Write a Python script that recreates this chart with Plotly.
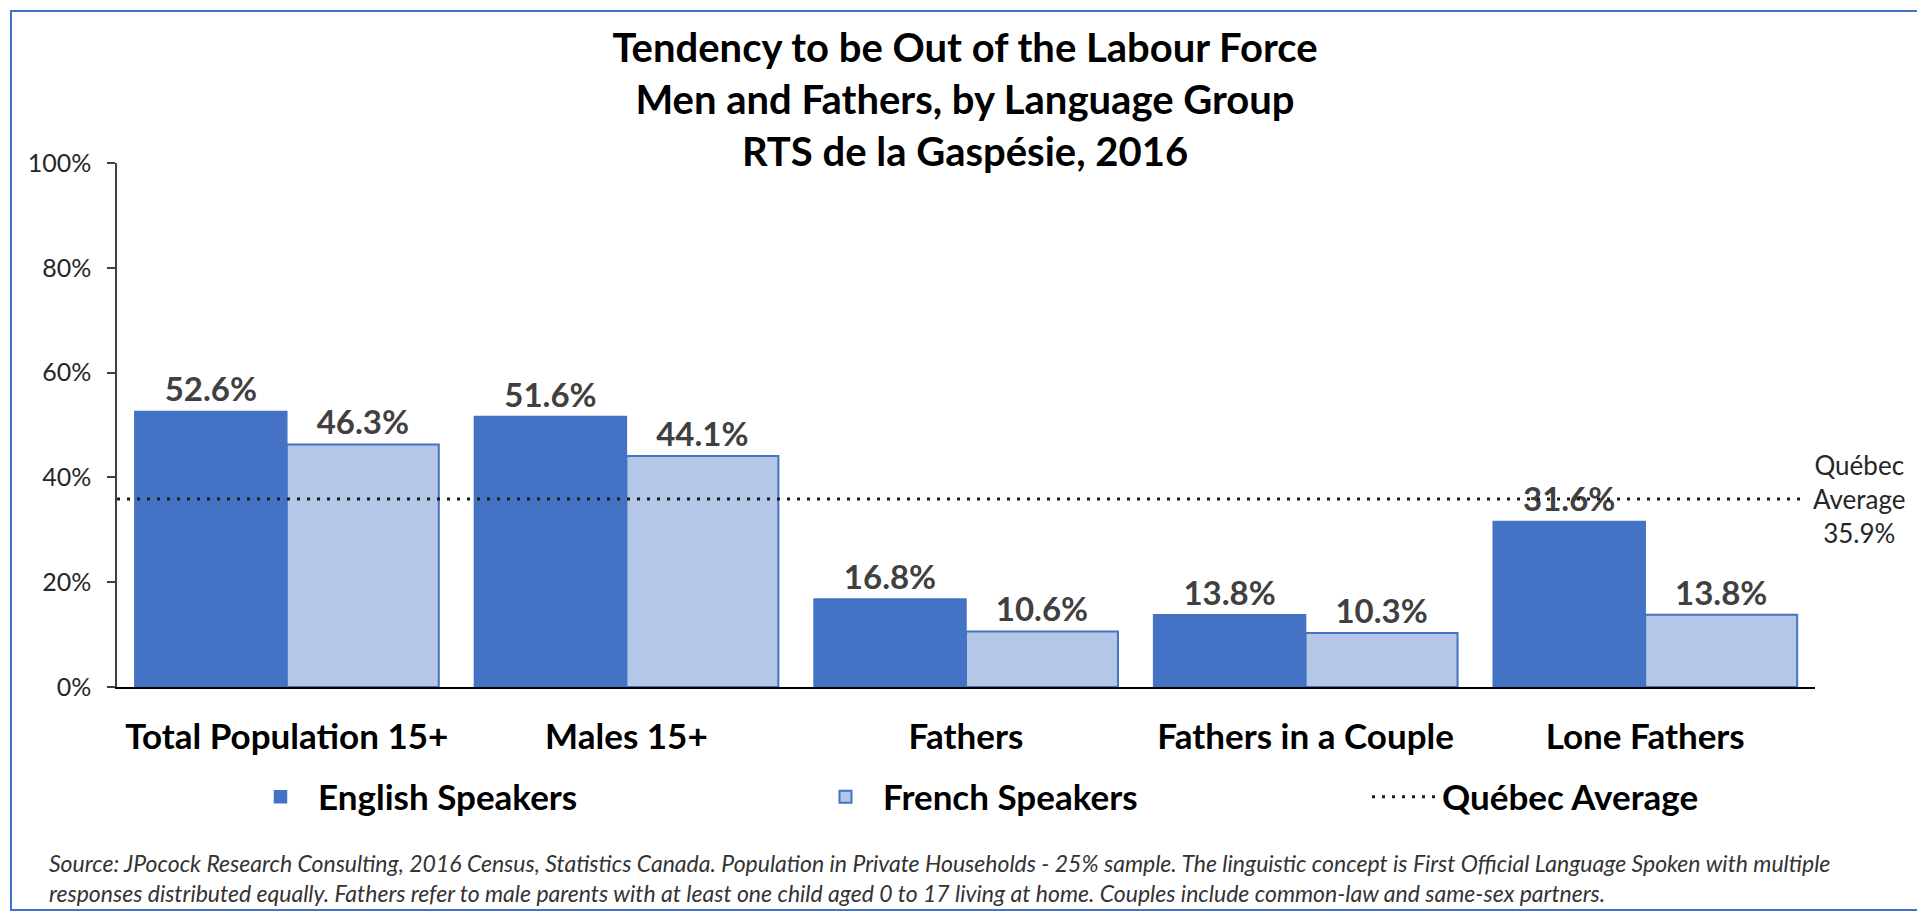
import plotly.graph_objects as go

# ---------------- data ----------------
CATEGORIES = ["Total Population 15+", "Males 15+", "Fathers", "Fathers in a Couple", "Lone Fathers"]
ENGLISH = [52.6, 51.6, 16.8, 13.8, 31.6]
FRENCH = [46.3, 44.1, 10.6, 10.3, 13.8]
QUEBEC_AVG = 35.9
Y_TICKS = [0, 20, 40, 60, 80, 100]
TITLE_LINES = ["Tendency to be Out of the Labour Force",
               "Men and Fathers, by Language Group",
               "RTS de la Gaspésie, 2016"]
SERIES_NAMES = ["English Speakers", "French Speakers", "Québec Average"]
FOOTNOTE = ("Source: JPocock Research Consulting, 2016 Census, Statistics Canada. Population in Private Households - 25% sample. "
            "The linguistic concept is First Official Language Spoken with multiple<br>"
            "responses distributed equally. Fathers refer to male parents with at least one child aged 0 to 17 living at home. "
            "Couples include common-law and same-sex partners.")

# ---------------- layout geometry ----------------
OFF = 8                      # default page body margin
W, H = 1925 - OFF, 916 - OFF
# plot area in page pixels
PL, PR, PT, PB = 117, 1815, 163, 687


def px_x(p):
    return (p - PL) / (PR - PL)


def px_y(p):
    return (PB - p) / (PB - PT)


BLUE = "#4472C4"
LIGHT = "#B4C7E7"
FONT = "Lato"
LABEL_FONT = dict(family=FONT, size=33, color="#404040", weight="bold")
LEGEND_FONT = dict(family=FONT, size=35, color="#000000", weight="bold")

fig = go.Figure()
fig.add_trace(go.Bar(
    x=CATEGORIES, y=ENGLISH, name=SERIES_NAMES[0], legend="legend",
    marker=dict(color=BLUE, line=dict(color=BLUE, width=1.5)),
    texttemplate="%{y:.1f}%", textposition="outside", cliponaxis=False,
    textfont=LABEL_FONT,
))
fig.add_trace(go.Bar(
    x=CATEGORIES, y=FRENCH, name=SERIES_NAMES[1], legend="legend2",
    marker=dict(color=LIGHT, line=dict(color=BLUE, width=2)),
    texttemplate="%{y:.1f}%", textposition="outside", cliponaxis=False,
    textfont=LABEL_FONT,
))

# Québec average dotted line (shape with legend entry)
fig.add_shape(
    type="line", xref="x domain", yref="y",
    x0=0, x1=px_x(1802), y0=QUEBEC_AVG, y1=QUEBEC_AVG,
    line=dict(color="#1a1a1a", width=3, dash="3px,7px"),
    showlegend=True, name=SERIES_NAMES[2], legend="legend3", layer="above",
)

fig.add_annotation(
    xref="paper", yref="y", x=px_x(1859), y=QUEBEC_AVG,
    text=f"Québec<br>Average<br>{QUEBEC_AVG:.1f}%", showarrow=False,
    xanchor="center", yanchor="middle", align="center",
    font=dict(family=FONT, size=26, color="#262626"),
)

# footnote
fig.add_annotation(
    xref="paper", yref="paper", x=px_x(47), y=px_y(878),
    text=f"<i>{FOOTNOTE}</i>", showarrow=False,
    xanchor="left", yanchor="middle", align="left",
    font=dict(family=FONT, size=23, color="#333333"),
)

# outer border
fig.add_shape(
    type="rect", xref="paper", yref="paper",
    x0=px_x(11), x1=px_x(1918), y0=px_y(910), y1=px_y(11),
    line=dict(color=BLUE, width=2), fillcolor="rgba(0,0,0,0)", layer="below",
)


def legend_at(page_x):
    return dict(
        orientation="h", xref="paper", yref="paper",
        x=px_x(page_x), y=px_y(797), xanchor="left", yanchor="middle",
        font=LEGEND_FONT, itemwidth=65, bgcolor="rgba(0,0,0,0)",
    )


fig.update_layout(
    width=W, height=H,
    margin=dict(l=PL - OFF, r=W - (PR - OFF), t=PT - OFF, b=H - (PB - OFF), pad=0),
    paper_bgcolor="white", plot_bgcolor="white",
    barmode="group", bargap=0.105, bargroupgap=0,
    title=dict(
        text="<br>".join(TITLE_LINES), x=(965 - OFF) / W, xref="container", xanchor="center",
        y=1 - (62 - OFF) / H, yref="container", yanchor="top",
        font=dict(family=FONT, size=40, color="#000000", weight="bold"),
    ),
    xaxis=dict(
        showline=True, linecolor="#000000", linewidth=2, ticks="",
        tickfont=dict(family=FONT, size=35, color="#000000", weight="bold"),
        ticklabelstandoff=18, showgrid=False, zeroline=False,
    ),
    yaxis=dict(
        range=[0, 100], tickvals=Y_TICKS, ticktext=[f"{v}%" for v in Y_TICKS],
        showline=True, linecolor="#404040", linewidth=1.5,
        ticks="outside", ticklen=8, tickcolor="#404040", tickwidth=1.5,
        tickfont=dict(family=FONT, size=25, color="#262626"),
        ticklabelstandoff=11, showgrid=False, zeroline=False,
    ),
    legend=legend_at(243),
    legend2=legend_at(808),
    legend3=legend_at(1367),
    showlegend=True,
)

fig.write_html("out.html")
